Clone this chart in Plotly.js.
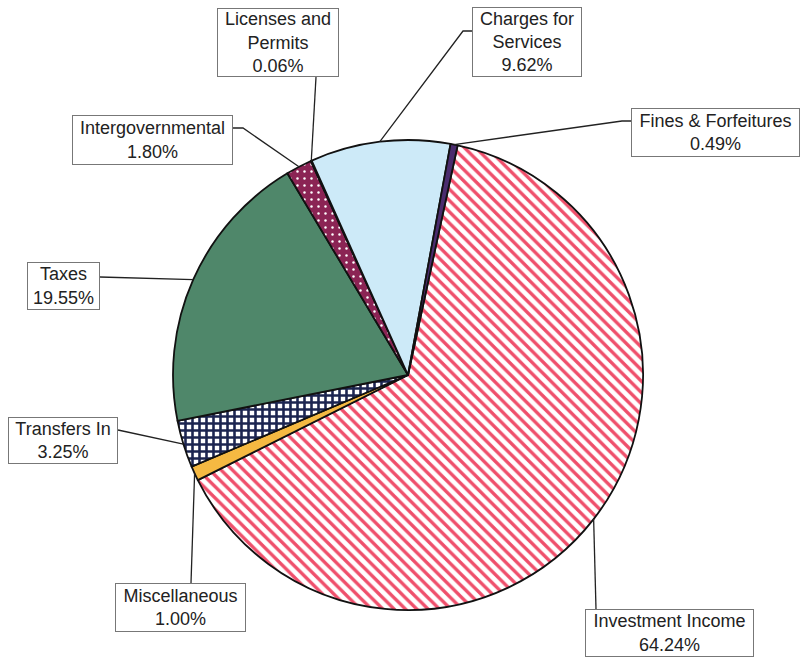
<!DOCTYPE html>
<html>
<head>
<meta charset="utf-8">
<script src="https://cdn.plot.ly/plotly-3.0.1.min.js"></script>
<style>html,body{margin:0;padding:0;background:#fff;}#chart{width:801px;height:658px;}</style>
</head>
<body>
<div id="chart"></div>
<script>
// ---- data (clockwise from the top-right) ----
const labels = ['Investment Income', 'Miscellaneous', 'Transfers In', 'Taxes',
                'Intergovernmental', 'Licenses and Permits', 'Charges for Services', 'Fines & Forfeitures'];
const values = [64.24, 1.00, 3.25, 19.55, 1.80, 0.06, 9.62, 0.49];
const boxLines = [['Investment Income'], ['Miscellaneous'], ['Transfers In'], ['Taxes'],
                  ['Intergovernmental'], ['Licenses and', 'Permits'], ['Charges for', 'Services'], ['Fines &amp; Forfeitures']];

// ---- styling ----
const sliceColors = ['#ffffff', '#f5b942', '#ffffff', '#4f876a', '#8b2454', '#7a2a5a', '#cdeaf8', '#4b2c6e'];
const patShape  = ['\\', '', '+', '', '.', '', '', ''];
const patFg     = ['#ef4f6b', '#f5b942', '#1c2550', '#4f876a', '#ffffff', '#7a2a5a', '#cdeaf8', '#4b2c6e'];
const patBg     = ['#ffffff', '#f5b942', '#ffffff', '#4f876a', '#8b2454', '#7a2a5a', '#cdeaf8', '#4b2c6e'];
const patSize   = [8, 6, 7, 6, 7, 6, 6, 6];
const patSolid  = [0.42, 0.3, 0.6, 0.3, 0.1, 0.3, 0.3, 0.3];

const W = 801, H = 658;
const CX = 408, CY = 375, R = 235, ROT = 12.2;

// label box layout (pixels): center x, center y, width, height, leader route points (box side first)
const boxes = [
  {cx: 669.5, cy: 633,   w: 169, h: 48, route: [[596, 609]]},
  {cx: 180.5, cy: 607.5, w: 131, h: 49, route: [[191, 583]]},
  {cx: 63,    cy: 440.5, w: 110, h: 47, route: [[118, 430]]},
  {cx: 63.5,  cy: 286,   w: 73,  h: 48, route: [[100, 277]]},
  {cx: 152.5, cy: 140,   w: 161, h: 50, route: [[233, 128], [243, 128]]},
  {cx: 278,   cy: 42.5,  w: 122, h: 69, route: [[316, 77]]},
  {cx: 527,   cy: 42,    w: 110, h: 70, route: [[472, 31], [463, 31]]},
  {cx: 715.5, cy: 132.5, w: 169, h: 49, route: [[631, 121], [622, 121]]}
];

const px = x => x / W;
const py = y => 1 - y / H;

const total = values.reduce((a, b) => a + b, 0);
let cum = 0;
const anchors = values.map(v => {
  const mid = ROT + 360 * (cum + v / 2) / total;
  cum += v;
  const t = mid * Math.PI / 180;
  return [CX + R * Math.sin(t), CY - R * Math.cos(t)];
});

const shapes = [];
const annotations = [];
labels.forEach((lab, i) => {
  const b = boxes[i];
  const pts = b.route.concat([anchors[i]]);
  const path = pts.map((p, k) => (k ? 'L' : 'M') + px(p[0]).toFixed(5) + ',' + py(p[1]).toFixed(5)).join(' ');
  shapes.push({type: 'path', xref: 'paper', yref: 'paper', path: path,
               line: {color: '#222', width: 1.3}});
  annotations.push({
    xref: 'paper', yref: 'paper', x: px(b.cx), y: py(b.cy), xanchor: 'center', yanchor: 'middle',
    text: boxLines[i].concat([values[i].toFixed(2) + '%']).join('<br>'),
    showarrow: false, align: 'center', valign: 'middle',
    width: b.w - 4, height: b.h - 4, borderpad: 1,
    bordercolor: '#777', borderwidth: 1, bgcolor: '#ffffff',
    font: {family: 'Liberation Sans, Arial, Helvetica, sans-serif', size: 18, color: '#222'}
  });
});

const trace = {
  type: 'pie',
  labels: labels,
  values: values,
  sort: false,
  direction: 'clockwise',
  rotation: ROT,
  textinfo: 'none',
  hoverinfo: 'label+percent',
  showlegend: false,
  domain: {x: [px(CX - R), px(CX + R)], y: [py(CY + R), py(CY - R)]},
  marker: {
    colors: sliceColors,
    line: {color: '#111', width: 1.8},
    pattern: {shape: patShape, fgcolor: patFg, bgcolor: patBg, size: patSize, solidity: patSolid}
  }
};

Plotly.newPlot('chart', [trace], {
  width: W, height: H,
  margin: {l: 0, r: 0, t: 0, b: 0},
  paper_bgcolor: '#ffffff',
  shapes: shapes,
  annotations: annotations
}, {displayModeBar: false, staticPlot: true});
</script>
</body>
</html>
